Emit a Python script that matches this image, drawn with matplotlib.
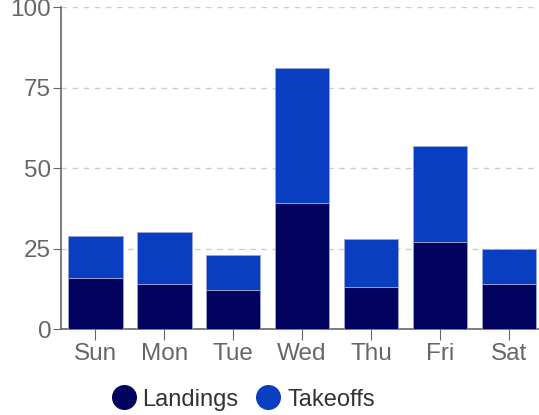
import matplotlib
matplotlib.use("Agg")
import matplotlib.pyplot as plt
import numpy as np
from matplotlib.lines import Line2D

days = ["Sun", "Mon", "Tue", "Wed", "Thu", "Fri", "Sat"]
landings = [16, 14, 12, 39, 13, 27, 14]
takeoffs = [13, 16, 11, 42, 15, 30, 11]
y_ticks = [0, 25, 50, 75, 100]

c_land = "#02035f"
c_take = "#0a3ec0"
gray = "#666666"

plt.rcParams["font.family"] = ["Liberation Sans", "DejaVu Sans"]

fig = plt.figure(figsize=(5.39, 4.15), dpi=100)
ax = fig.add_axes([0.113, 0.207, 0.895, 0.776])

x = np.arange(len(days))
ax.bar(x, landings, width=0.79, color=c_land, edgecolor="#9aa6d8", linewidth=0.6, zorder=3)
ax.bar(x, takeoffs, bottom=landings, width=0.79, color=c_take, edgecolor="#9aa6d8",
       linewidth=0.6, zorder=3)

ax.set_xlim(-0.5, len(days) - 0.5)
ax.set_ylim(0, 100)
ax.set_yticks(y_ticks)
ax.set_xticks(x)
ax.set_xticklabels(days)
ax.yaxis.grid(True, linestyle=(0, (4, 4)), color="#cccccc", linewidth=1, zorder=0)

for s in ["top", "right"]:
    ax.spines[s].set_visible(False)
for s in ["left", "bottom"]:
    ax.spines[s].set_color(gray)
    ax.spines[s].set_linewidth(1.2)

ax.tick_params(axis="y", length=6, color=gray, labelcolor=gray, labelsize=17.5, pad=1)
ax.tick_params(axis="x", length=8, color=gray, labelcolor=gray, labelsize=17.5, pad=2)

handles = [
    Line2D([], [], marker="o", linestyle="none", markersize=17, color=c_land, label="Landings"),
    Line2D([], [], marker="o", linestyle="none", markersize=17, color=c_take, label="Takeoffs"),
]
fig.legend(handles=handles, loc="center", bbox_to_anchor=(0.448, 0.037), ncol=2,
           frameon=False, fontsize=17, handletextpad=0.15, columnspacing=0.6,
           handlelength=1.3, labelcolor="#333333")

fig.savefig("out.png", dpi=100)
